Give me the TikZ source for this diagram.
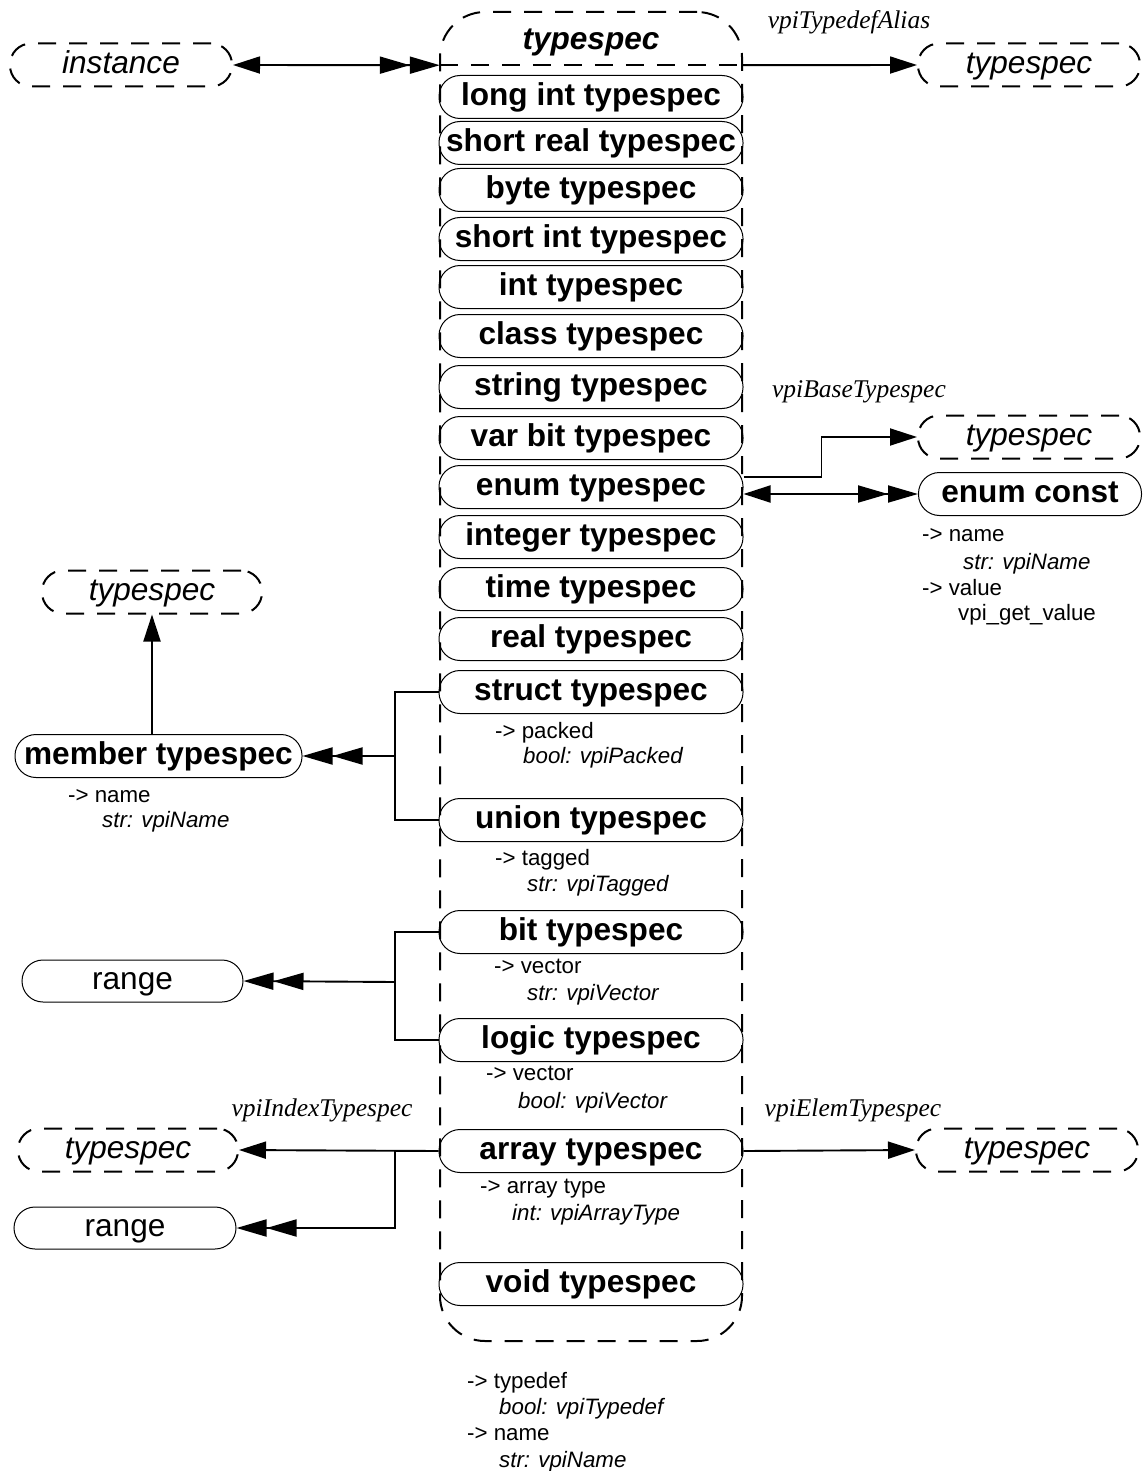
\documentclass[tikz,border=0pt]{standalone}
\usepackage{fontspec}
\setmainfont{Liberation Sans}
\newfontfamily\relfont{Liberation Serif}
\usetikzlibrary{arrows.meta,calc}

\tikzset{
  kindbox/.style={draw, line width=1pt, rounded corners=21pt,
    minimum width=304pt, minimum height=43pt, inner sep=1pt,
    text height=23pt, text depth=6.5pt,
    font=\fontsize{31.6}{36}\selectfont\bfseries},
  extbox/.style={draw, line width=2pt, dash pattern=on 18pt off 13pt,
    rounded corners=21pt, minimum width=222pt, minimum height=43pt,
    inner sep=1pt, text height=23pt, text depth=6.5pt,
    font=\fontsize{31.6}{36}\selectfont\itshape},
  plainbox/.style={draw, line width=1pt, rounded corners=21pt,
    minimum width=222pt, minimum height=42pt, inner sep=1pt,
    text height=23pt, text depth=6.5pt,
    font=\fontsize{31.6}{36}\selectfont},
  groupbox/.style={draw, line width=2pt, dash pattern=on 18pt off 13pt,
    rounded corners=45pt, minimum width=302pt, minimum height=1329pt,
    inner sep=0pt},
  dashline/.style={line width=2pt, dash pattern=on 18pt off 13pt},
  ann/.style={anchor=west, inner sep=0pt, text height=16pt, text depth=5pt,
    font=\fontsize{22.3}{26}\selectfont},
  rel/.style={inner sep=0pt, font=\relfont\itshape\fontsize{25.5}{30}\selectfont},
  conn/.style={line width=1.9pt},
  tipone/.style={-{Triangle[length=27pt,width=17pt]}},
  tiptwo/.style={-{Triangle[length=30pt,width=17pt]Triangle[length=30pt,width=17pt]}},
  tipboth/.style={{Triangle[length=27pt,width=17pt]}-{Triangle[length=30pt,width=17pt]Triangle[length=30pt,width=17pt]}},
}

\begin{document}
\begin{tikzpicture}[x=1pt,y=-1pt]
\useasboundingbox (0,0) rectangle (1143,1471);

% the typespec group with its header
\node[groupbox] (typespec) at (591,676.5) {};
\node[inner sep=0pt, minimum width=302pt, minimum height=53pt,
      text height=23pt, text depth=0pt,
      font=\fontsize{31.6}{36}\selectfont\bfseries\itshape] (hdr) at (591,38.5) {typespec};
\draw[dashline] (hdr.south west) -- (hdr.south east);

% kinds of typespec
\node[kindbox] (longint)   at (591,97)   {long int typespec};
\node[kindbox] (shortreal) at (591,143)  {short real typespec};
\node[kindbox] (bytets)    at (591,190)  {byte typespec};
\node[kindbox] (shortint)  at (591,239)  {short int typespec};
\node[kindbox] (intts)     at (591,287)  {int typespec};
\node[kindbox] (classts)   at (591,336)  {class typespec};
\node[kindbox] (stringts)  at (591,387)  {string typespec};
\node[kindbox] (varbit)    at (591,438)  {var bit typespec};
\node[kindbox] (enumts)    at (591,487)  {enum typespec};
\node[kindbox] (integerts) at (591,537)  {integer typespec};
\node[kindbox] (timets)    at (591,589)  {time typespec};
\node[kindbox] (realts)    at (591,639)  {real typespec};
\node[kindbox] (structts)  at (591,692)  {struct typespec};
\node[kindbox] (unionts)   at (591,820)  {union typespec};
\node[kindbox] (bitts)     at (591,932)  {bit typespec};
\node[kindbox] (logicts)   at (591,1040) {logic typespec};
\node[kindbox] (arrayts)   at (591,1151) {array typespec};
\node[kindbox] (voidts)    at (591,1284) {void typespec};

% properties
\node[ann] (p1a) at (495,733) {-> packed};
\node[ann] (p1b) at (523,758) {\itshape bool: vpiPacked};
\node[ann] (p2a) at (495,860) {-> tagged};
\node[ann] (p2b) at (527,886) {\itshape str: vpiTagged};
\node[ann] (p3a) at (494,968) {-> vector};
\node[ann] (p3b) at (527,995) {\itshape str: vpiVector};
\node[ann] (p4a) at (486,1075) {-> vector};
\node[ann] (p4b) at (518,1103) {\itshape bool: vpiVector};
\node[ann] (p5a) at (480,1188) {-> array type};
\node[ann] (p5b) at (512,1215) {\itshape int: vpiArrayType};
\node[ann] (p6a) at (467,1383) {-> typedef};
\node[ann] (p6b) at (499,1409) {\itshape bool: vpiTypedef};
\node[ann] (p6c) at (467,1435) {-> name};
\node[ann] (p6d) at (499,1462) {\itshape str: vpiName};

% related objects
\node[extbox] (instance) at (121,65)   {instance};
\node[extbox] (tsalias)  at (1029,65)  {typespec};
\node[extbox] (tsbase)   at (1029,437) {typespec};
\node[kindbox, minimum width=223pt] (econst) at (1030,494) {enum const};
\node[ann] (e1) at (922,536) {-> name};
\node[ann] (e2) at (963,564) {\itshape str: vpiName};
\node[ann] (e3) at (922,590) {-> value};
\node[ann] (e4) at (958,615) {vpi\_get\_value};

\node[extbox, minimum width=220pt] (tsmember) at (152,592) {typespec};
\node[kindbox, minimum width=287pt] (member) at (158.5,756) {member typespec};
\node[ann] (m1) at (68,797)  {-> name};
\node[ann] (m2) at (102,822) {\itshape str: vpiName};

\node[plainbox, minimum width=221pt] (range1) at (132.5,981) {range};
\node[extbox, minimum width=220pt] (tsindex) at (128,1150) {typespec};
\node[plainbox] (range2) at (125,1228) {range};
\node[extbox] (tselem) at (1027,1150) {typespec};

% relation labels
\node[rel] (lalias) at (849,22)   {vpiTypedefAlias};
\node[rel] (lbase)  at (859,392)  {vpiBaseTypespec};
\node[rel] (lindex) at (322,1110) {vpiIndexTypespec};
\node[rel] (lelem)  at (853,1110) {vpiElemTypespec};

% junction points
\coordinate (mj) at (395,756);
\coordinate (rj) at (395,982);
\coordinate (aj) at (395,1150);

% connectors
\draw[conn, tipboth] (instance.east) -- (hdr.south west);
\draw[conn, tipone] (hdr.south east) -- (tsalias.west);
\draw[conn, tipone] ([yshift=10pt]enumts.east) -- ++(78,0) |- (tsbase.west);
\draw[conn, tipboth] (enumts.east |- econst.west) -- (econst.west);

\draw[conn] (structts.west) -| (mj) |- (unionts.west);
\draw[conn, tiptwo] (mj) -- (member.east);
\draw[conn, tipone] (tsmember.south |- member.north) -- (tsmember.south);

\draw[conn] (bitts.west) -| (rj) |- (logicts.west);
\draw[conn, tiptwo] (rj) -- (range1.east);

\draw[conn, tipone] (arrayts.west) -- (tsindex.east);
\draw[conn, tiptwo] (aj) |- (range2.east);
\draw[conn, tipone] (arrayts.east) -- (tselem.west);
\end{tikzpicture}
\end{document}
